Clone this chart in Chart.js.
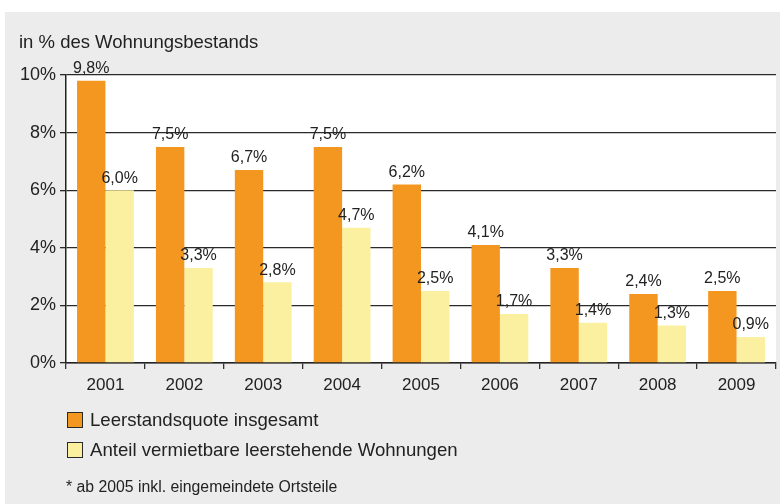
<!DOCTYPE html>
<html><head><meta charset="utf-8">
<script src="https://cdn.jsdelivr.net/npm/chart.js@4"></script>
<style>
html,body{margin:0;padding:0;background:#fff;}
#wrap{position:relative;width:780px;height:504px;overflow:hidden;background:#fff;}
#panel{position:absolute;left:5px;top:12px;width:775px;height:492px;background:#ececec;}
#c{position:absolute;left:0;top:0;}
.t{position:absolute;font-family:"Liberation Sans",Arial,sans-serif;color:#222;white-space:nowrap;}
.sw{position:absolute;width:14px;height:14px;border:1.5px solid #2a2a2a;}
</style></head>
<body>
<div id="wrap">
<div id="panel"></div>
<canvas id="c" width="780" height="504"></canvas>
<div class="t" style="left:19px;top:31px;font-size:18.5px;">in % des Wohnungsbestands</div>
<div class="sw" style="left:67px;top:412px;background:#f39720;"></div>
<div class="t" id="l1" style="left:90px;top:409px;font-size:18.6px;"></div>
<div class="sw" style="left:67px;top:442px;background:#fbf09f;"></div>
<div class="t" id="l2" style="left:90px;top:439px;font-size:18.6px;"></div>
<div class="t" style="left:66px;top:478px;font-size:15.8px;">* ab 2005 inkl. eingemeindete Ortsteile</div>
</div>
<script>
const categories = ["2001","2002","2003","2004","2005","2006","2007","2008","2009"];
const seriesNames = ["Leerstandsquote insgesamt","Anteil vermietbare leerstehende Wohnungen"];
const totalRate = [9.8, 7.5, 6.7, 7.5, 6.2, 4.1, 3.3, 2.4, 2.5];
const rentableRate = [6.0, 3.3, 2.8, 4.7, 2.5, 1.7, 1.4, 1.3, 0.9];
const yTicks = [0, 2, 4, 6, 8, 10];

document.getElementById('l1').textContent = seriesNames[0];
document.getElementById('l2').textContent = seriesNames[1];

const fmt = v => v.toFixed(1).replace('.', ',') + '%';

const bgPlugin = {
  id: 'bg',
  beforeDraw(chart) {
    const {ctx, chartArea: a} = chart;
    ctx.save();
    ctx.fillStyle = '#ffffff';
    ctx.fillRect(a.left, a.top, a.right - a.left, a.bottom - a.top);
    ctx.restore();
  }
};
const labelPlugin = {
  id: 'vlabels',
  afterDatasetsDraw(chart) {
    const ctx = chart.ctx;
    ctx.save();
    ctx.font = '16px "Liberation Sans", Arial, sans-serif';
    ctx.fillStyle = '#222';
    ctx.textAlign = 'center';
    ctx.textBaseline = 'bottom';
    chart.data.datasets.forEach((ds, i) => {
      chart.getDatasetMeta(i).data.forEach((bar, j) => {
        ctx.fillText(fmt(ds.data[j]), bar.x, bar.y - 4);
      });
    });
    ctx.restore();
  }
};

new Chart(document.getElementById('c'), {
  type: 'bar',
  data: {
    labels: categories,
    datasets: [
      {label: seriesNames[0], data: totalRate, backgroundColor: '#f39720', borderWidth: 0},
      {label: seriesNames[1], data: rentableRate, backgroundColor: '#fbf09f', borderWidth: 0}
    ]
  },
  options: {
    responsive: false,
    animation: false,
    devicePixelRatio: 1,
    layout: {padding: {left: 0, right: 4, top: 75, bottom: 0}},
    plugins: {legend: {display: false}, tooltip: {enabled: false}},
    datasets: {bar: {categoryPercentage: 0.72, barPercentage: 1.0}},
    scales: {
      x: {
        afterFit(s) { s.height = 141; },
        grid: {offset: true, drawOnChartArea: false, color: '#333', lineWidth: 1.3, tickLength: 6},
        border: {color: '#222', width: 1.5},
        ticks: {color: '#222', font: {family: '"Liberation Sans", Arial, sans-serif', size: 17}, padding: 6}
      },
      y: {
        min: 0, max: 10,
        afterFit(s) { s.width = 66; },
        afterBuildTicks(s) { s.ticks = yTicks.map(v => ({value: v})); },
        grid: {color: '#2a2a2a', lineWidth: 1.3, tickLength: 6},
        border: {color: '#222', width: 1.5},
        ticks: {color: '#222', font: {family: '"Liberation Sans", Arial, sans-serif', size: 18}, padding: 4,
                callback: v => v + '%'}
      }
    }
  },
  plugins: [bgPlugin, labelPlugin]
});
</script>
</body></html>
